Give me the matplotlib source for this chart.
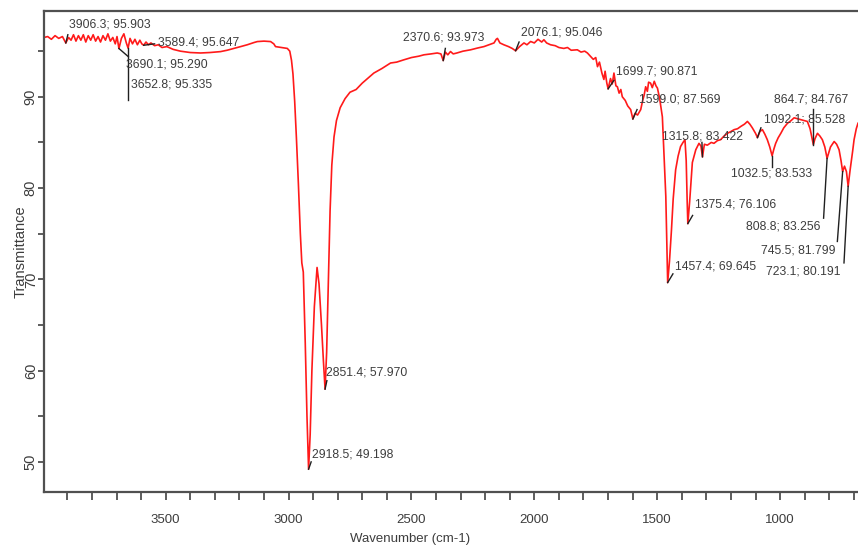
import matplotlib
matplotlib.use("Agg")
import matplotlib.pyplot as plt
from matplotlib.ticker import MultipleLocator

plt.rcParams['font.family'] = ['Liberation Sans', 'DejaVu Sans']

# ---- spectrum data (wavenumber, transmittance) ----
wavenumber = [
    3995, 3980, 3965, 3950, 3935, 3920, 3906.3, 3895, 3885, 3875, 3865, 3855, 3845, 3835,
    3825, 3815, 3805, 3795, 3785, 3775, 3765, 3755, 3745, 3735, 3725, 3715, 3705, 3698,
    3690.1, 3680, 3670, 3660, 3652.8, 3645, 3635, 3625, 3615, 3605, 3597, 3589.4, 3580,
    3570, 3560, 3545, 3530, 3515, 3495, 3470, 3440, 3400, 3358, 3320, 3277, 3250, 3222,
    3195, 3168, 3140, 3127, 3100, 3073, 3060, 3053, 3030, 3005, 2995, 2988, 2982,
    2975, 2968, 2960, 2952, 2946, 2940, 2932, 2925, 2918.5, 2912, 2905, 2895, 2884,
    2876, 2866, 2858, 2851.4, 2845, 2838, 2831, 2824, 2815, 2805, 2790, 2770, 2750,
    2725, 2700, 2670, 2653, 2620, 2585, 2560, 2531, 2500, 2470, 2449, 2420, 2395, 2380,
    2370.6, 2362, 2352, 2341, 2330, 2315, 2290, 2259, 2230, 2205, 2185, 2164, 2155, 2150,
    2140, 2124, 2105, 2090, 2076.1, 2060, 2042, 2030, 2015, 2000, 1985, 1970, 1961, 1950,
    1934, 1915, 1900, 1880, 1865, 1850, 1825, 1810, 1795, 1784, 1770, 1760, 1750, 1743,
    1735, 1725, 1717, 1712, 1705, 1699.7, 1690, 1683, 1676, 1668, 1662, 1655, 1648, 1642,
    1630, 1620, 1608, 1599.0, 1590, 1580, 1567, 1560, 1553, 1547, 1540, 1535, 1527, 1520,
    1512, 1505, 1499, 1490, 1479, 1472, 1465, 1460, 1457.4, 1450, 1442, 1435, 1425, 1415,
    1405, 1395, 1387, 1382, 1378, 1375.4, 1368, 1357, 1343, 1330, 1322, 1315.8, 1308,
    1296, 1280, 1269, 1255, 1242, 1228, 1214, 1200, 1187, 1173, 1160, 1145, 1133, 1123,
    1113, 1100, 1092.1, 1082, 1072, 1062, 1052, 1042, 1032.5, 1025, 1018, 1008, 997, 985,
    970, 955, 943, 930, 916, 903, 889, 878, 864.7, 858, 848, 838, 828, 818, 808.8, 795,
    780, 770, 760, 752, 745.5, 738, 730, 723.1, 715, 705, 699, 690, 683,
]
transmittance = [
    96.5, 96.6, 96.3, 96.7, 96.4, 96.6, 95.9, 96.5, 96.2, 96.8, 96.1, 96.7, 96.2, 96.8,
    96.0, 96.7, 96.2, 96.8, 96.1, 96.6, 96.0, 96.7, 96.2, 96.9, 96.1, 96.5, 95.8, 96.6,
    95.29, 96.4, 96.9, 95.9, 95.335, 96.4, 95.8, 96.3, 95.7, 96.2, 95.8, 95.647, 96.0,
    95.7, 95.9, 95.6, 95.7, 95.4, 95.5, 95.2, 95.0, 94.85, 94.8, 94.85, 94.95, 95.1, 95.3,
    95.5, 95.7, 95.95, 96.05, 96.1, 96.05, 95.8, 95.5, 95.4, 95.3, 95.0, 94.0, 92.5,
    89.5, 85.5, 80.5, 75.0, 71.8, 70.8, 63.0, 55.0, 49.198, 53.0, 60.0, 67.0, 71.3,
    69.5, 65.0, 61.0, 57.97, 62.0, 70.0, 77.5, 82.5, 85.6, 87.4, 88.8, 89.8, 90.5,
    90.8, 91.5, 92.2, 92.6, 93.1, 93.7, 93.8, 94.05, 94.3, 94.45, 94.6, 94.7, 94.8, 94.7,
    93.973, 94.9, 94.6, 94.96, 94.7, 94.8, 95.0, 95.15, 95.35, 95.5, 95.7, 95.9, 96.3, 96.4,
    95.9, 95.7, 95.5, 95.3, 95.046, 95.5, 95.9, 95.7, 96.06, 95.9, 96.3, 96.0, 96.25, 95.9,
    95.7, 95.6, 95.4, 95.3, 95.4, 95.1, 95.15, 94.9, 95.0, 94.8, 94.4, 94.1, 94.3, 93.3,
    93.8, 92.6, 91.9, 92.8, 91.5, 90.871, 92.0, 91.4, 92.6, 91.2, 91.1, 90.4, 90.8, 90.0,
    89.6, 89.0, 88.6, 87.569, 88.2, 88.0, 88.6, 89.5, 90.2, 91.1, 90.6, 91.6, 91.5, 91.0,
    91.7, 91.2, 90.95, 89.8, 87.8, 83.5, 79.1, 73.0, 69.645, 72.0, 75.4, 78.8, 82.0, 83.5,
    84.55, 85.0, 85.3, 83.0, 78.5, 76.106, 78.5, 82.8, 84.2, 84.9, 84.6, 83.422, 84.8,
    84.7, 85.0, 84.9, 85.2, 85.3, 85.7, 86.0, 86.2, 86.4, 86.5, 86.75, 87.0, 87.3, 87.0,
    86.6, 86.0, 85.528, 86.2, 86.4, 85.9, 85.3, 84.5, 83.533, 84.3, 84.9, 85.5, 86.0, 86.6,
    87.1, 87.4, 87.7, 87.6, 87.5, 87.4, 87.3, 86.5, 84.767, 85.4, 86.0, 85.7, 85.3, 84.5, 83.256, 84.5,
    85.1, 84.8, 84.2, 83.0, 81.799, 82.4, 81.8, 80.191, 82.0, 84.0, 85.3, 86.5, 87.1,
]

# ---- labelled peaks ----
peak_wn = [3906.3, 3690.1, 3652.8, 3589.4, 2370.6, 2076.1, 1699.7, 1599.0, 1315.8,
           1375.4, 1457.4, 1032.5, 1092.1, 864.7, 808.8, 745.5, 723.1, 2851.4, 2918.5]
peak_t = [95.903, 95.290, 95.335, 95.647, 93.973, 95.046, 90.871, 87.569, 83.422,
          76.106, 69.645, 83.533, 85.528, 84.767, 83.256, 81.799, 80.191, 57.970, 49.198]

# layout: text anchor (left, centre) and leader end for each label
text_pos = [(3895, 97.9), (3663, 93.5), (3643, 91.3), (3533, 95.9), (2536, 96.5),
            (2056, 97.0), (1669, 92.8), (1575, 89.7), (1479, 85.65), (1348, 78.2),
            (1429, 71.4), (1201, 81.6), (1065, 87.5), (1025, 89.7), (1140, 75.8),
            (1079, 73.2), (1058, 70.85), (2846, 59.8), (2906, 50.8)]
leader_end = [(3898, 96.8), (3652, 94.4), (3652.8, 89.6), (3545, 95.8), (2362, 95.3),
              (2062, 96.0), (1676, 91.8), (1582, 88.6), (1318, 85.0), (1356, 77.0),
              (1436, 70.6), (1032.5, 82.3), (1078, 86.6), (864.7, 88.7), (823, 76.7),
              (767, 74.15), (740, 71.8), (2844, 58.9), (2908, 50.0)]

fig = plt.figure(figsize=(8.58, 5.49), dpi=100)
ax = fig.add_axes([44 / 858, 57 / 549, 814 / 858, 481 / 549])

ax.plot(wavenumber, transmittance, color='#ff1a1a', lw=1.2, zorder=2)

txt_color = '#3d3d3d'
for wn, t, (tx, ty), (lx, ly) in zip(peak_wn, peak_t, text_pos, leader_end):
    ax.plot([wn, lx], [t, ly], color='#202020', lw=1.0, zorder=3)
    ax.text(tx, ty, f"{wn:.1f}; {t:.3f}", fontsize=8.7, color=txt_color,
            ha='left', va='center', zorder=4)

ax.set_xlim(3995, 683)
ax.set_ylim(46.7, 99.4)

ax.xaxis.set_major_locator(MultipleLocator(500))
ax.xaxis.set_minor_locator(MultipleLocator(100))
ax.yaxis.set_major_locator(MultipleLocator(10))
ax.yaxis.set_minor_locator(MultipleLocator(5))

spine_c = '#505050'
for s in ['left', 'bottom', 'top']:
    ax.spines[s].set_color(spine_c)
    ax.spines[s].set_linewidth(1.6)
ax.spines['right'].set_visible(False)

ax.tick_params(axis='both', which='both', direction='out', color=spine_c,
               width=1.3, labelcolor='#3d3d3d')
ax.tick_params(axis='x', which='both', length=6, labelsize=9.5, pad=10)
ax.tick_params(axis='y', which='both', length=4, labelsize=10.5, pad=0.5)
for lab in ax.get_yticklabels():
    lab.set_rotation(90)
    lab.set_va('center')

ax.set_xlabel('Wavenumber (cm-1)', fontsize=9.5, color='#3d3d3d')
ax.xaxis.set_label_coords(0.45, -0.085)
ax.set_ylabel('Transmittance', fontsize=10.5, color='#3d3d3d')
ax.yaxis.set_label_coords(-0.02, 0.5)

fig.savefig('out.png', dpi=100)
